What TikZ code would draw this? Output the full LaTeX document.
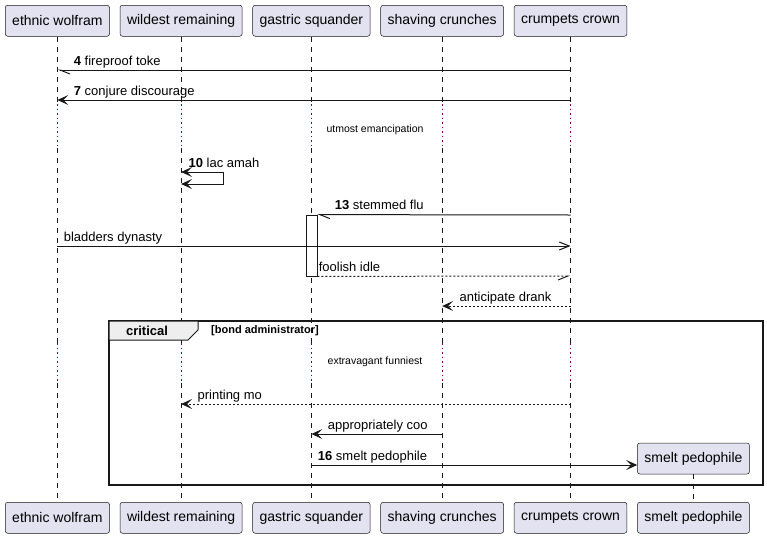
\documentclass[tikz,border=0pt]{standalone}
\usepackage{fontspec}
\setmainfont{Liberation Sans}
\usepackage{tikz}
\usetikzlibrary{positioning,arrows.meta}
\definecolor{partfill}{HTML}{E2E2F0}
\definecolor{ink}{HTML}{181818}
\definecolor{delayred}{HTML}{8C0032}
\definecolor{tabfill}{HTML}{EEEEEE}

\begin{document}
\begin{tikzpicture}[x=1pt, y=-1pt, >={Stealth[length=11pt,width=10pt,inset=5pt]},
  part/.style={draw=ink, line width=0.5pt, fill=partfill, rounded corners=2.5pt,
    inner xsep=7pt, minimum height=31pt, font=\fontsize{14}{16}\selectfont},
  lifeline/.style={draw=ink, line width=0.5pt, dash pattern=on 5pt off 5pt},
  delayline/.style={draw=delayred, line width=1.1pt, dash pattern=on 1.5pt off 3pt},
  msg/.style={draw=ink, line width=1pt},
  reply/.style={msg, dash pattern=on 2pt off 2pt},
  lbl/.style={anchor=base west, inner sep=0pt, font=\fontsize{13}{15}\selectfont},
  delaytext/.style={inner sep=0pt, font=\fontsize{10.5}{12}\selectfont},
  halfhead/.style={-{Straight Barb[#1, length=10pt, width=8pt]}},
  openhead/.style={-{Straight Barb[length=10pt, width=8pt]}}]
  \useasboundingbox (0,0) rectangle (767,538);

  % Participants (top)
  \node[part, anchor=north west] (wolfram) at (5,5) {ethnic wolfram};
  \node[part, right=10pt of wolfram] (wildest) {wildest remaining};
  \node[part, right=10pt of wildest] (gastric) {gastric squander};
  \node[part, right=10pt of gastric] (shaving) {shaving crunches};
  \node[part, right=10pt of shaving] (crumpets) {crumpets crown};

  % Participants (bottom)
  \node[part, anchor=north west] (wolframB) at (5,502) {ethnic wolfram};
  \node[part, right=10pt of wolframB] (wildestB) {wildest remaining};
  \node[part, right=10pt of wildestB] (gastricB) {gastric squander};
  \node[part, right=10pt of gastricB] (shavingB) {shaving crunches};
  \node[part, right=10pt of shavingB] (crumpetsB) {crumpets crown};
  \node[part, right=10pt of crumpetsB] (smeltB) {smelt pedophile};

  % Lifelines, broken by the two delays
  \foreach \p in {wolfram,wildest,gastric,shaving,crumpets}{
    \draw[lifeline] (\p.south) -- (\p |- 0,104);
    \draw[delayline] (\p |- 0,104) -- (\p |- 0,148);
    \draw[lifeline] (\p |- 0,148) -- (\p |- 0,343);
    \draw[delayline] (\p |- 0,343) -- (\p |- 0,383);
    \draw[lifeline] (\p |- 0,383) -- (\p B.north);
  }

  % Created participant
  \node[part] (smelt) at (smeltB |- 0,458.5) {smelt pedophile};
  \draw[lifeline] (smelt.south) -- (smeltB.north);

  % Activation
  \node[draw=ink, fill=white, line width=0.8pt, minimum width=11pt,
    minimum height=61pt, inner sep=0pt] (act) at (gastric |- 0,245.5) {};

  % Messages
  \draw[msg, halfhead=left] (crumpets |- 0,70) -- (wolfram |- 0,70)
    node[lbl, pos=1, xshift=16pt, yshift=5pt] (m4) {\textbf{4} fireproof toke};
  \draw[msg, ->] (crumpets |- 0,100) -- (wolfram |- 0,100)
    node[lbl, pos=1, xshift=16pt, yshift=5pt] (m7) {\textbf{7} conjure discourage};
  \node[delaytext] (delay1) at (375,130) {utmost emancipation};
  \draw[msg, <->] (wildest |- 0,172)
    node[lbl, xshift=7pt, yshift=5pt] (m10) {\textbf{10} lac amah}
    -- ++(42,0) -- ++(0,12) -- (wildest |- 0,184);
  \draw[msg, halfhead=left] (crumpets |- 0,215) -- (act.north east)
    node[lbl, pos=1, xshift=17pt, yshift=5pt] (m13) {\textbf{13} stemmed flu};
  \draw[msg, openhead] (wolfram |- 0,246) -- (crumpets |- 0,246)
    node[lbl, pos=0, xshift=6pt, yshift=5pt] (m14) {bladders dynasty};
  \draw[reply, halfhead=right] (act.south east) -- (crumpets |- 0,276)
    node[lbl, pos=0, xshift=1pt, yshift=5pt] (m15) {foolish idle};
  \draw[reply, ->] (crumpets |- 0,306) -- (shaving |- 0,306)
    node[lbl, pos=1, xshift=17pt, yshift=5pt] (m16) {anticipate drank};

  % critical frame
  \draw[draw=ink, line width=1.5pt] (109,321) rectangle (763,485);
  \filldraw[fill=tabfill, draw=ink, line width=1pt]
    (109,321) -- (198,321) -- (198,330) -- (188,340) -- (109,340) -- cycle;
  \node[inner sep=0pt, font=\bfseries\fontsize{13}{15}\selectfont] (crit) at (147,331) {critical};
  \node[anchor=west, inner sep=0pt, font=\bfseries\fontsize{11}{13}\selectfont] (guard) at (211,331) {[bond administrator]};
  \node[delaytext] (delay2) at (375,362) {extravagant funniest};
  \draw[reply, ->] (crumpets |- 0,404) -- (wildest |- 0,404)
    node[lbl, pos=1, xshift=16pt, yshift=5pt] (m17) {printing mo};
  \draw[msg, ->] (shaving |- 0,434) -- (gastric |- 0,434)
    node[lbl, pos=1, xshift=16pt, yshift=5pt] (m18) {appropriately coo};
  \draw[msg, ->] (gastric |- 0,465) -- (smelt.west |- 0,465)
    node[lbl, pos=0, xshift=6pt, yshift=5pt] (m19) {\textbf{16} smelt pedophile};

\end{tikzpicture}
\end{document}
